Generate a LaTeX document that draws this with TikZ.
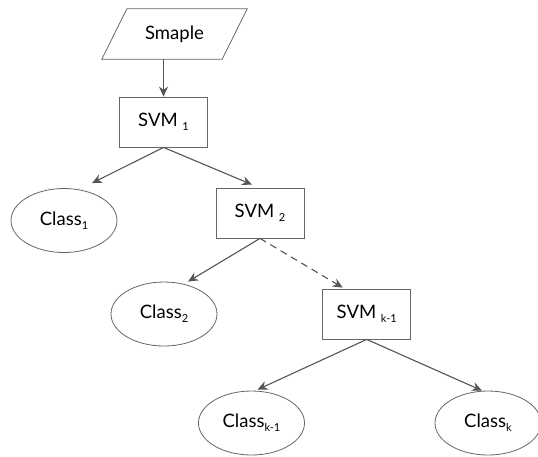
\documentclass[tikz,border=0pt]{standalone}
\usepackage{fontspec}
\setmainfont{Lato}
\usetikzlibrary{shapes.geometric,arrows.meta}
\newcommand{\mysub}[1]{\raisebox{-0.45ex}{\fontsize{11}{13}\selectfont #1}}
\definecolor{linegray}{HTML}{555555}
\definecolor{boxgray}{HTML}{666666}
\tikzset{
  base/.style={font=\fontsize{18.5}{22}\selectfont, text=black, inner sep=0pt},
  svmbox/.style={base, draw=boxgray, line width=0.8pt, rectangle, minimum width=88pt, minimum height=50pt},
  classell/.style={base, draw=boxgray, line width=0.8pt, ellipse, minimum width=106pt, minimum height=64pt},
  inputtext/.style={base, rectangle, minimum width=95pt, minimum height=50pt},
  outline/.style={draw=boxgray, line width=0.8pt},
  arr/.style={draw=linegray, line width=1.1pt, -{Stealth[length=10pt,width=9pt]}},
  dasharr/.style={arr, dash pattern=on 7pt off 5pt}
}
\begin{document}
\begin{tikzpicture}[x=1pt,y=-1pt]
\useasboundingbox (0,0) rectangle (538,456);
\node[inputtext] (smaple) at (174.5,34) {Smaple};
\draw[outline] ([xshift=-25pt]smaple.south west) -- (smaple.south east)
  -- ([xshift=25pt]smaple.north east) -- (smaple.north west) -- cycle;
\node[svmbox] (svm1) at (163.5,122) {SVM \mysub{1}};
\node[classell] (c1) at (64,220.5) {Class\mysub{1}};
\node[svmbox] (svm2) at (260,213) {SVM \mysub{2}};
\node[classell] (c2) at (164,314) {Class\mysub{2}};
\node[svmbox] (svmk1) at (366.7,314) {SVM \mysub{k-1}};
\node[classell] (ck1) at (251.5,423) {Class\mysub{k-1}};
\node[classell] (ck) at (488,423) {Class\mysub{k}};

\draw[arr] (smaple.south -| svm1.north) -- (svm1.north);
\draw[arr] (svm1.south) -- ([xshift=28pt,yshift=5pt]c1.north);
\draw[arr] (svm1.south) -- ([xshift=-8pt,yshift=3pt]svm2.north);
\draw[arr] (svm2.south) -- ([xshift=24pt]c2.north);
\draw[dasharr] (svm2.south) -- ([xshift=-24pt,yshift=1pt]svmk1.north);
\draw[arr] (svmk1.south) -- ([xshift=6pt,yshift=1pt]ck1.north);
\draw[arr] (svmk1.south) -- ([xshift=-6pt]ck.north);
\end{tikzpicture}
\end{document}
